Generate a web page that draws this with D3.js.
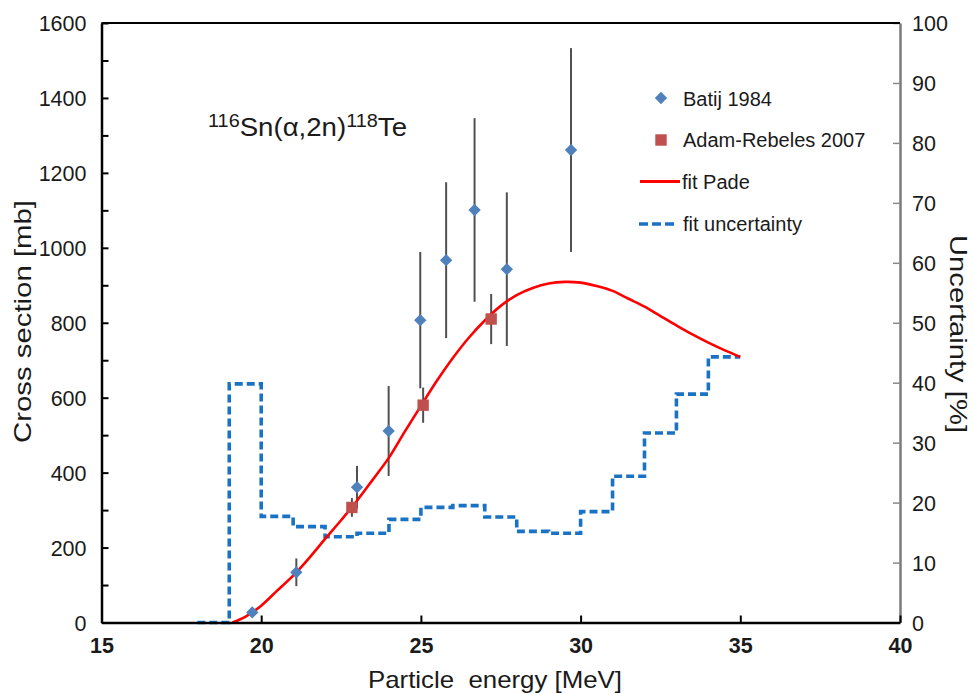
<!DOCTYPE html>
<html>
<head>
<meta charset="utf-8">
<script src="https://cdn.jsdelivr.net/npm/d3@7"></script>
<style>
  html, body { margin: 0; padding: 0; background: #fff; }
  svg { display: block; font-family: "Liberation Sans", Arial, sans-serif; }
</style>
</head>
<body>
<svg id="chart" width="974" height="694"></svg>
<script>
// ---------------- data ----------------
const xTicks = [15, 20, 25, 30, 35, 40];
const yLeftTicks = d3.range(0, 1601, 100);
const yRightTicks = d3.range(0, 101, 10);

// Batij 1984 (cross section, mb)
const batijE   = [19.72, 21.10, 23.00, 23.99, 24.98, 25.79, 26.68, 27.69, 29.70];
const batijXS  = [27, 134, 361, 511, 807, 967, 1101, 943, 1261];
const batijErr = [4, 37, 57, 120, 182, 208, 245, 205, 272];

// Adam-Rebeles 2007
const adamE   = [22.84, 25.07, 27.20];
const adamXS  = [307, 580, 810];
const adamErr = [25, 47, 67];

// fit Pade (mb)
const fitE  = [19.1, 19.5, 20, 20.5, 21, 21.5, 22, 22.5, 23, 23.5, 24, 24.5, 25, 25.5, 26, 26.5, 27, 27.5, 28, 28.5, 29, 29.5, 30, 30.5, 31, 31.5, 32, 32.5, 33, 33.5, 34, 34.5, 35];
const fitXS = [0, 15, 45, 85, 125, 172, 223, 273, 325, 382, 440, 510, 578, 645, 706, 760, 806, 845, 874, 893, 905, 909, 907, 898, 885, 864, 843, 818, 793, 769, 747, 727, 709];

// fit uncertainty (%), step starting at each energy
const uncE   = [18, 19, 20, 21, 22, 23, 24, 25, 26, 27, 28, 29, 30, 31, 32, 33, 34, 35];
const uncPct = [0, 39.8, 17.7, 16.0, 14.3, 14.9, 17.2, 19.2, 19.5, 17.6, 15.2, 14.9, 18.5, 24.4, 31.6, 38.1, 44.3, 44.3];

const legendLabels = ["Batij 1984", "Adam-Rebeles 2007", "fit Pade", "fit uncertainty"];

// ---------------- chart ----------------
const svg = d3.select("#chart");
const x  = d3.scaleLinear().domain([15, 40]).range([101.5, 900]);
const yL = d3.scaleLinear().domain([0, 1600]).range([622.5, 23]);
const yR = d3.scaleLinear().domain([0, 100]).range([622.5, 23]);

const blue = "#1a72c4", red = "#ff0000", diamondC = "#4f81bd", squareC = "#c0504d";
const textC = "#1a1a1a";

// uncertainty step line
const unc = uncE.map((e, i) => [e, uncPct[i]]);
svg.append("path")
  .datum(unc)
  .attr("fill", "none")
  .attr("stroke", blue)
  .attr("stroke-width", 3.6)
  .attr("stroke-dasharray", "8,4")
  .attr("d", d3.line().x(d => x(d[0])).y(d => yR(d[1])).curve(d3.curveStepAfter));

// error bars
const errC = "#505050";
svg.append("g").selectAll("line").data(batijE.map((e, i) => [e, batijXS[i], batijErr[i]]))
  .join("line")
  .attr("x1", d => x(d[0])).attr("x2", d => x(d[0]))
  .attr("y1", d => yL(d[1] - d[2])).attr("y2", d => yL(d[1] + d[2]))
  .attr("stroke", errC).attr("stroke-width", 2);
svg.append("g").selectAll("line").data(adamE.map((e, i) => [e, adamXS[i], adamErr[i]]))
  .join("line")
  .attr("x1", d => x(d[0])).attr("x2", d => x(d[0]))
  .attr("y1", d => yL(d[1] - d[2])).attr("y2", d => yL(d[1] + d[2]))
  .attr("stroke", errC).attr("stroke-width", 2);

// fit Pade
svg.append("path")
  .datum(fitE.map((e, i) => [e, fitXS[i]]))
  .attr("fill", "none")
  .attr("stroke", red)
  .attr("stroke-width", 2.6)
  .attr("d", d3.line().x(d => x(d[0])).y(d => yL(d[1])).curve(d3.curveCatmullRom.alpha(0.5)));

// markers
const diamond = d3.symbol().type(d3.symbolSquare).size(76);
const square  = d3.symbol().type(d3.symbolSquare).size(130);
svg.append("g").selectAll("path").data(batijE.map((e, i) => [e, batijXS[i]]))
  .join("path")
  .attr("d", diamond)
  .attr("transform", d => `translate(${x(d[0])},${yL(d[1])}) rotate(45)`)
  .attr("fill", diamondC);
svg.append("g").selectAll("path").data(adamE.map((e, i) => [e, adamXS[i]]))
  .join("path")
  .attr("d", square)
  .attr("transform", d => `translate(${x(d[0])},${yL(d[1])})`)
  .attr("fill", squareC);

// axes
const axL = svg.append("g").attr("transform", `translate(${x(15)},0)`)
  .call(d3.axisLeft(yL).tickValues(yLeftTicks).tickFormat(d => d % 200 === 0 ? d : "")
    .tickSizeInner(-7).tickSizeOuter(0).tickPadding(15));
axL.select(".domain").attr("stroke", "#000").attr("stroke-width", 2.5);
axL.selectAll(".tick line").attr("stroke", "#000").attr("stroke-width", 2);
axL.selectAll(".tick text").attr("font-size", 21.5).attr("fill", textC).attr("dy", "0.36em")
  .attr("font-family", "'Liberation Sans', Arial, sans-serif");

const axR = svg.append("g").attr("transform", `translate(${x(40)},0)`)
  .call(d3.axisRight(yR).tickValues(yRightTicks)
    .tickSizeInner(-7).tickSizeOuter(0).tickPadding(12));
axR.select(".domain").attr("stroke", "#7a7a7a").attr("stroke-width", 2.5);
axR.selectAll(".tick line").attr("stroke", "#8a8a8a").attr("stroke-width", 1.5);
axR.selectAll(".tick text").attr("font-size", 21.5).attr("fill", textC).attr("dy", "0.36em")
  .attr("font-family", "'Liberation Sans', Arial, sans-serif");

const axB = svg.append("g").attr("transform", `translate(0,${yL(0)})`)
  .call(d3.axisBottom(x).tickValues(xTicks).tickSizeInner(-7).tickSizeOuter(0).tickPadding(10));
axB.select(".domain").attr("stroke", "#000").attr("stroke-width", 2.5);
axB.selectAll(".tick line").attr("stroke", "#000").attr("stroke-width", 2);
axB.selectAll(".tick text").attr("font-size", 21.5).attr("font-weight", "bold").attr("fill", textC)
  .attr("dy", "0.95em")
  .attr("font-family", "'Liberation Sans', Arial, sans-serif");

// top frame line
svg.append("path")
  .attr("d", d3.line()([[x(15), yL(1600)], [x(40), yL(1600)]]))
  .attr("stroke", "#000").attr("stroke-width", 2.2);

// axis titles
svg.append("text")
  .attr("transform", "translate(31,321.5) rotate(-90)")
  .attr("text-anchor", "middle").attr("font-size", 24).attr("fill", textC)
  .attr("textLength", 243).attr("lengthAdjust", "spacingAndGlyphs")
  .text("Cross section [mb]");
svg.append("text")
  .attr("transform", "translate(950,334) rotate(90)")
  .attr("text-anchor", "middle").attr("font-size", 24).attr("fill", textC)
  .attr("textLength", 198).attr("lengthAdjust", "spacingAndGlyphs")
  .text("Uncertainty [%]");
svg.append("text")
  .attr("x", 495).attr("y", 688)
  .attr("text-anchor", "middle").attr("font-size", 24).attr("fill", textC)
  .style("white-space", "pre")
  .attr("textLength", 254).attr("lengthAdjust", "spacingAndGlyphs")
  .text("Particle  energy [MeV]");

// reaction annotation (single text with superscript tspans)
const annParts = [
  {t: "116", fs: 18, dy: -9.5},
  {t: "Sn(α,2n)", fs: 25, dy: 9.5},
  {t: "118", fs: 18, dy: -9.5},
  {t: "Te", fs: 25, dy: 9.5}
];
const annText = svg.append("text")
  .attr("x", 208).attr("y", 136)
  .attr("fill", textC)
  .attr("textLength", 199).attr("lengthAdjust", "spacingAndGlyphs");
annText.selectAll("tspan").data(annParts).join("tspan")
  .attr("font-size", d => d.fs).attr("dy", d => d.dy)
  .text(d => d.t);

// legend
const lg = svg.append("g");
lg.append("path").attr("d", diamond).attr("transform", "translate(661,98) rotate(45)").attr("fill", diamondC);
lg.append("path").attr("d", square).attr("transform", "translate(661,140)").attr("fill", squareC);
lg.append("line").attr("x1", 640).attr("x2", 680).attr("y1", 181.5).attr("y2", 181.5)
  .attr("stroke", red).attr("stroke-width", 3);
lg.append("line").attr("x1", 639).attr("x2", 677).attr("y1", 224).attr("y2", 224)
  .attr("stroke", blue).attr("stroke-width", 3.6).attr("stroke-dasharray", "9,4");
const lgPos = [[683, 105.5], [683, 147], [682, 188.5], [683, 230.5]];
lg.selectAll("text").data(legendLabels).join("text")
  .attr("x", (d, i) => lgPos[i][0]).attr("y", (d, i) => lgPos[i][1])
  .attr("font-size", 20).attr("fill", textC)
  .text(d => d);
</script>
</body>
</html>
